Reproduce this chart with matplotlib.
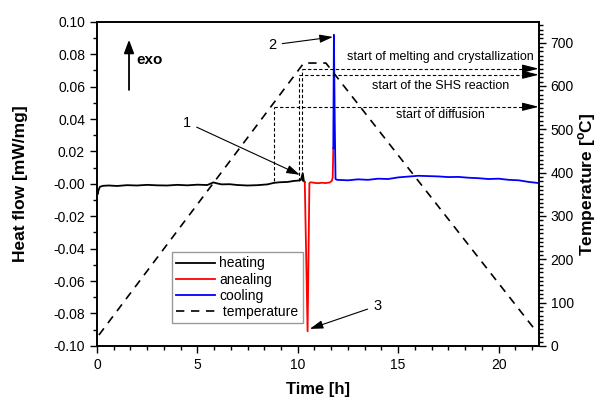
import matplotlib
matplotlib.use("Agg")
import matplotlib.pyplot as plt
from matplotlib.ticker import MultipleLocator

plt.rcParams['font.family'] = ['Liberation Sans', 'DejaVu Sans']
plt.rcParams['mathtext.fontset'] = 'custom'
plt.rcParams['mathtext.rm'] = 'Liberation Sans:bold'
plt.rcParams['mathtext.bf'] = 'Liberation Sans:bold'

# heat flow, heating segment
t_heat = [0.0, 0.03, 0.08, 0.15, 0.3, 0.6, 1.0, 1.5, 2.0, 2.5, 3.0, 3.5, 4.0, 4.5,
          5.0, 5.5, 5.8, 5.95, 6.2, 6.6, 7.0, 7.5, 8.0, 8.5, 8.8, 9.1, 9.5, 9.8,
          10.0, 10.15, 10.25, 10.3, 10.35]
hf_heat = [-0.003, -0.0065, -0.004, -0.0018, -0.0012, -0.001, -0.0013, -0.0008, -0.001,
           -0.0006, -0.0009, -0.001, -0.0006, -0.0009, -0.0005, -0.0007, 0.0009, 0.0004,
           -0.0003, -0.0002, -0.0007, -0.001, -0.0008, -0.0003, 0.0006, 0.001, 0.0012,
           0.0018, 0.002, 0.0024, 0.0065, 0.002, 0.001]

# annealing segment
t_anneal = [10.35, 10.42, 10.49, 10.53, 10.58, 10.65, 10.8, 11.0, 11.2, 11.4, 11.6,
            11.7, 11.74, 11.77]
hf_anneal = [0.001, -0.045, -0.091, -0.05, 0.0005, 0.001, 0.0007, 0.0004, 0.0007,
             0.0005, 0.0009, 0.002, 0.004, 0.022]

# cooling segment
t_cool = [11.77, 11.8, 11.84, 11.88, 11.95, 12.5, 13.0, 13.5, 14.0, 14.5, 15.0, 15.5,
          16.0, 16.5, 17.0, 17.5, 18.0, 18.5, 19.0, 19.5, 20.0, 20.5, 21.0, 21.5, 22.0]
hf_cool = [0.022, 0.092, 0.04, 0.003, 0.0025, 0.0022, 0.0028, 0.0025, 0.0032, 0.003,
           0.004, 0.0045, 0.005, 0.0048, 0.0046, 0.0042, 0.0043, 0.0038, 0.0035, 0.003,
           0.0032, 0.0025, 0.0022, 0.0012, 0.0005]

# temperature program
t_temp = [0.1, 10.3, 11.4, 21.85]
temp = [25, 653, 653, 35]

# characteristic temperatures
marker_x = [8.8, 10.07, 10.23]
marker_T = [552, 626, 640]
marker_base = 380
marker_labels = ["start of diffusion", "start of the SHS reaction",
                 "start of melting and crystallization"]
label_T = [533, 600, 667]

fig = plt.figure(figsize=(5.98, 3.98), dpi=100)
ax = fig.add_axes([0.162, 0.131, 0.739, 0.814])
ax2 = ax.twinx()

l1, = ax.plot(t_heat, hf_heat, color='black', lw=1.3, label='heating')
l2, = ax.plot(t_anneal, hf_anneal, color='red', lw=1.3, label='anealing')
l3, = ax.plot(t_cool, hf_cool, color='blue', lw=1.3, label='cooling')
l4, = ax2.plot(t_temp, temp, color='black', lw=1.2, ls=(0, (5, 4)), label=' temperature')

ax.set_xlim(0, 22)
ax.set_ylim(-0.10, 0.10)
ax2.set_ylim(0, 748)

for x0, T in zip(marker_x, marker_T):
    ax2.plot([x0, x0], [marker_base, T], color='black', lw=0.8, ls=(0, (3, 2)))
    ax2.plot([x0, 21.6], [T, T], color='black', lw=0.8, ls=(0, (3, 2)))
    ax2.annotate('', xy=(22, T), xytext=(21.3, T),
                 arrowprops=dict(arrowstyle='-|>,head_length=1.0,head_width=0.25',
                                 color='black', lw=0.8, mutation_scale=10,
                                 shrinkA=0, shrinkB=0))
for txt, T in zip(marker_labels, label_T):
    ax2.text(17.1, T, txt, ha='center', va='center', fontsize=9)

# exo arrow
ax.annotate('', xy=(1.6, 0.089), xytext=(1.6, 0.058),
            arrowprops=dict(arrowstyle='-|>,head_length=0.8,head_width=0.3',
                            color='black', lw=1.3, mutation_scale=10,
                            shrinkA=0, shrinkB=0))
ax.text(1.95, 0.0765, 'exo', fontsize=11, fontweight='bold', va='center')

arrow_kw = dict(arrowstyle='-|>,head_length=0.8,head_width=0.25', color='black',
                lw=0.8, mutation_scale=10, shrinkA=2, shrinkB=0)
ax.annotate('1', xy=(10.1, 0.0056), xytext=(4.5, 0.0377), fontsize=10.5,
            ha='center', va='center', arrowprops=arrow_kw)
ax.annotate('2', xy=(11.75, 0.0907), xytext=(8.75, 0.0858), fontsize=10.5,
            ha='center', va='center', arrowprops=arrow_kw)
ax.annotate('3', xy=(10.6, -0.0895), xytext=(13.95, -0.0753), fontsize=10.5,
            ha='center', va='center', arrowprops=arrow_kw)

ax.xaxis.set_major_locator(MultipleLocator(5))
ax.xaxis.set_minor_locator(MultipleLocator(5 / 6))
ax.yaxis.set_major_locator(MultipleLocator(0.02))
ax.yaxis.set_minor_locator(MultipleLocator(0.01))
ax2.yaxis.set_major_locator(MultipleLocator(100))
ax2.yaxis.set_minor_locator(MultipleLocator(10))
ax.yaxis.set_major_formatter(plt.FormatStrFormatter('%.2f'))

for a in (ax, ax2):
    a.tick_params(which='major', length=5, width=1, labelsize=10)
    a.tick_params(which='minor', length=3, width=1)
    for s in a.spines.values():
        s.set_linewidth(1.2)
ax.tick_params(axis='x', which='both', top=False)

ax.set_xlabel('Time [h]', fontsize=12, fontweight='bold')
ax.set_ylabel('Heat flow [mW/mg]', fontsize=12.5, fontweight='bold')
ax2.set_ylabel('Temperature [$^\\mathbf{o}$C]', fontsize=12.5, fontweight='bold')
ax.xaxis.set_label_coords(0.5, -0.112)
ax.yaxis.set_label_coords(-0.155, 0.5)
ax2.yaxis.set_label_coords(1.084, 0.5)

leg = ax.legend(handles=[l1, l2, l3, l4], loc='lower left',
                bbox_to_anchor=(0.17, 0.071), fontsize=10, frameon=True,
                fancybox=False, edgecolor='gray', handlelength=2.8,
                handletextpad=0.3, labelspacing=0.15, borderpad=0.3,
                borderaxespad=0)
leg.get_frame().set_linewidth(1.0)

fig.savefig('out.png', dpi=100)
plt.close(fig)
